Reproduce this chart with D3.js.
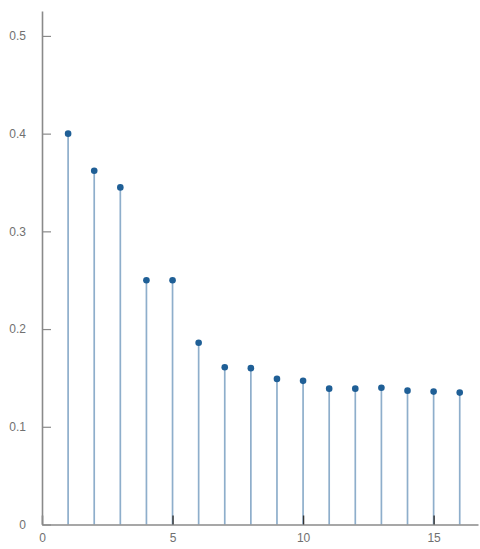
<!DOCTYPE html>
<html>
<head>
<meta charset="utf-8">
<script src="https://cdn.jsdelivr.net/npm/d3@7"></script>
<style>
  html, body { margin: 0; padding: 0; background: #fff; }
  svg { display: block; }
  text { font-family: "Liberation Sans", Arial, sans-serif; }
</style>
</head>
<body>
<svg id="chart" width="480" height="549"></svg>
<script>
const xValues = [1, 2, 3, 4, 5, 6, 7, 8, 9, 10, 11, 12, 13, 14, 15, 16];
const yValues = [0.400, 0.362, 0.345, 0.250, 0.250, 0.186, 0.161, 0.160, 0.149, 0.147, 0.139, 0.139, 0.140, 0.137, 0.136, 0.135];
const xTicks = [0, 5, 10, 15];
const yTicks = [0, 0.1, 0.2, 0.3, 0.4, 0.5];

const svg = d3.select("#chart");
const margin = { left: 42, right: 2, top: 11, bottom: 24.5 };
const W = 480, H = 549;

const x = d3.scaleLinear().domain([0, 16.7]).range([margin.left, W - margin.right]);
const y = d3.scaleLinear().domain([0, 0.5255]).range([H - margin.bottom, margin.top]);

// stems
svg.append("g").selectAll("line")
  .data(xValues.map((d, i) => [d, yValues[i]]))
  .join("line")
  .attr("x1", d => x(d[0])).attr("x2", d => x(d[0]))
  .attr("y1", y(0)).attr("y2", d => y(d[1]))
  .attr("stroke", "#8eaecb")
  .attr("stroke-width", 1.7);

// x axis
const xAxis = d3.axisBottom(x).tickValues(xTicks).tickFormat(d3.format("d")).tickSizeInner(-9).tickSizeOuter(0).tickPadding(16);
const gx = svg.append("g").attr("transform", `translate(0,${y(0)})`).call(xAxis);
gx.select(".domain").attr("stroke", "#8a8a8a").attr("stroke-width", 1.6);
gx.selectAll(".tick line").attr("stroke", "#333").attr("stroke-width", 1.4);
gx.selectAll(".tick text").attr("fill", "#707070").attr("font-size", 12).attr("dy", "0.1em");

// y axis
const yAxis = d3.axisLeft(y).tickValues(yTicks).tickFormat(d => d === 0 ? "0" : d3.format(".1f")(d)).tickSizeInner(-9).tickSizeOuter(0).tickPadding(16);
const gy = svg.append("g").attr("transform", `translate(${x(0)},0)`).call(yAxis);
gy.select(".domain").attr("stroke", "#8a8a8a").attr("stroke-width", 1.6);
gy.selectAll(".tick line").attr("stroke", "#8a8a8a").attr("stroke-width", 1.2);
gy.selectAll(".tick text").attr("fill", "#707070").attr("font-size", 12);

// markers
svg.append("g").selectAll("circle")
  .data(xValues.map((d, i) => [d, yValues[i]]))
  .join("circle")
  .attr("cx", d => x(d[0])).attr("cy", d => y(d[1]))
  .attr("r", 3.3)
  .attr("fill", "#1f5f96");
</script>
</body>
</html>
